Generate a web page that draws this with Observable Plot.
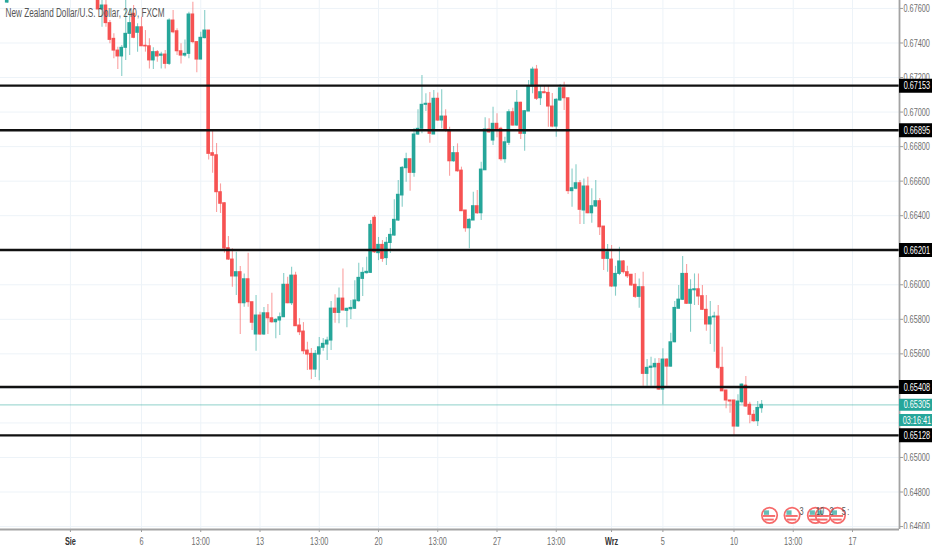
<!DOCTYPE html>
<html><head><meta charset="utf-8">
<script src="https://cdn.jsdelivr.net/npm/d3@7"></script>
<script src="https://cdn.jsdelivr.net/npm/@observablehq/plot@0.6"></script>
<style>html,body{margin:0;padding:0;background:#fff}svg{display:block}</style>
</head><body><div id="chart"></div>
<script>
// Candle prices in points (1e-5 of the quote). First entry is the lone candle at far left, then slots 7..175.
const firstSlot = [-16];
const bodyTop = [67663,
67692,67617,67617,67515,67424,67356,67372,67453,67515,67569,
67491,67491,67384,67381,67347,67347,67333,67333,67530,67530,
67468,67352,67337,67565,67565,67405,67430,67472,67472,66762,
66750,66536,66472,66212,66146,66073,66073,66032,66032,65899,
65822,65822,65835,65835,65806,65797,65812,66000,66000,66053,
66053,65764,65729,65619,65600,65600,65638,65658,65677,65862,
65862,65920,65920,65861,65866,65909,66040,66069,66075,66347,
66388,66231,66231,66243,66289,66376,66521,66677,66727,66727,
66870,66903,67042,67048,67048,67077,67077,66974,66974,66893,
66762,66762,66661,66430,66376,66455,66455,66667,66899,66899,
66932,66932,66903,66825,66999,66999,67054,67054,67005,67148,
67246,67246,67115,67115,67111,67032,67071,67138,67138,67080,
66559,66588,66588,66569,66569,66455,66484,66484,66337,66188,
66146,66063,66135,66135,66073,66058,66000,65986,65986,65519,
65526,65542,65542,65567,65567,65667,65866,65914,66063,66063,
65971,65974,65974,65934,65855,65812,65816,65816,65519,65388,
65330,65330,65324,65422,65416,65305,65247,65287,65305];
const bodyBottom = [67634,
67594,67594,67515,67418,67356,67322,67322,67372,67453,67430,
67459,67381,67380,67299,67299,67322,67326,67279,67279,67462,
67352,67327,67327,67337,67405,67304,67304,67428,66758,66747,
66536,66469,66210,66146,66048,66048,65893,65893,65899,65780,
65712,65712,65712,65806,65783,65783,65793,65812,65893,65893,
65760,65725,65615,65596,65509,65509,65596,65635,65654,65677,
65837,65837,65851,65849,65858,65861,65905,66034,66067,66069,
66188,66183,66150,66154,66242,66285,66372,66517,66675,66648,
66648,66870,66903,67042,66874,66870,66951,66951,66893,66715,
66715,66657,66426,66327,66327,66372,66414,66414,66663,66882,
66835,66899,66727,66727,66822,66922,66922,66874,66874,67003,
67148,67077,67080,67109,67032,66916,66916,67067,67080,66542,
66542,66556,66434,66430,66414,66414,66453,66333,66150,66150,
65990,65990,66063,66073,66049,65996,65930,65930,65484,65484,
65519,65522,65393,65393,65526,65526,65667,65861,65913,65890,
65890,65968,65932,65855,65770,65770,65811,65519,65383,65330,
65324,65179,65179,65320,65295,65247,65210,65210,65285];
const wickHigh = [67692,
67715,67663,67663,67530,67453,67376,67385,67675,67598,67617,
67511,67549,67472,67424,67372,67356,67347,67356,67540,67588,
67482,67395,67418,67578,67636,67405,67462,67588,67472,66889,
66818,66584,66476,66279,66208,66188,66106,66063,66183,65899,
65938,65841,65868,65886,65951,65803,65837,66065,66044,66102,
66073,65804,65781,65667,65631,65619,65694,65689,65696,65903,
65942,65982,66092,65864,65909,66024,66125,66098,66159,66372,
66401,66274,66256,66274,66326,66492,66604,66685,66762,66727,
66905,67013,67212,67106,67113,67125,67111,67129,67013,66912,
66801,66816,66681,66430,66382,66536,66546,66710,66967,66961,
67028,66990,66912,66854,67013,67022,67125,67057,67009,67183,
67260,67270,67148,67148,67148,67107,67077,67160,67173,67080,
66671,66695,66604,66613,66623,66556,66604,66499,66337,66233,
66227,66107,66217,66140,66107,66059,66065,66034,66073,65567,
65580,65571,65573,65629,65571,65719,65903,65996,66163,66117,
66029,66063,66063,65996,65938,65903,65841,65880,65638,65388,
65330,65330,65363,65426,65469,65320,65272,65324,65330];
const wickLow = [67629,
67594,67491,67491,67395,67308,67246,67206,67299,67327,67424,
67347,67381,67347,67250,67246,67289,67250,67250,67270,67453,
67327,67279,67318,67308,67395,67227,67304,67424,66723,66646,
66418,66413,66183,66140,65986,65938,65712,65870,65870,65735,
65615,65706,65706,65712,65777,65687,65706,65810,65890,65880,
65760,65706,65596,65503,65451,65463,65445,65615,65561,65619,
65777,65774,65851,65751,65799,65857,65899,65932,66063,66065,
66181,66140,66130,66111,66181,66281,66366,66449,66594,66542,
66623,66864,66874,67003,66820,66870,66945,66903,66883,66629,
66710,66652,66426,66304,66208,66372,66407,66372,66661,66878,
66806,66851,66715,66704,66806,66918,66918,66841,66773,67003,
67106,67067,67038,67107,66912,66909,66854,67063,67009,66523,
66449,66550,66349,66349,66411,66356,66449,66285,66082,66073,
65984,65934,66053,66063,66036,65992,65920,65864,65412,65412,
65412,65412,65388,65306,65412,65522,65665,65861,65909,65886,
65725,65880,65880,65851,65731,65654,65609,65509,65383,65282,
65256,65127,65175,65310,65291,65195,65204,65179,65256];
const direction = ("u"+
"dudddduuud"+"udddududud"+"dduudduudd"+"dddddududd"+"ududduuudu"+
"ddddduuuuu"+"duduuuuuuu"+"duduuuuuud"+"uuuudududd"+"uddduuduud"+
"udduududuu"+"ududdduudd"+"uududuuddu"+"duuddddudu"+
"uududuuuud"+"uuddduuddd"+"dduuddduu").split("");

const yTicks = [0.646,0.648,0.65,0.652,0.654,0.656,0.658,0.66,0.662,0.664,0.666,0.668,0.67,0.672,0.674,0.676];
const xTicks = [0,18,33,48,63,78,93,108,123,137,150,168,183,198];
const xLabels = ["Sie","6","13:00","13","13:00","20","13:00","27","13:00","Wrz","5","10","13:00","17"];
const levels = [0.67153,0.66895,0.66201,0.65408,0.65128];
const lastPrice = 0.65305;
const countdownPrice = 0.65217;
const countdownLabel = "03:16:41";
const eventSlots = [177,182.7,188.6,190.6,194.2];
const eventPrice = 0.64665;
const eventNotes = [[185.1,"3"],[189.8,"10"],[192.7,"2"],[195.8,"5"],[196.9,":"]];
const title = "New Zealand Dollar/U.S. Dollar, 240, FXCM";

const slots = firstSlot.concat(d3.range(7,176));
const rows = slots.map((s,k)=>({s,top:bodyTop[k]/1e5,bottom:bodyBottom[k]/1e5,high:wickHigh[k]/1e5,low:wickLow[k]/1e5,dir:direction[k]}));
const TEAL="#26a69a", RED="#f65252", RING="#f66a6a";
const colorOf = d=>d.dir==="u"?TEAL:RED;
const xEnd=209.9, xOuter=218.4, yBottom=0.64583, yTop=0.67646, ySub=0.6445;
const sans='"Liberation Sans",Arial,sans-serif';

const labelOf=new Map(xTicks.map((t,i)=>[t,xLabels[i]]));
const bold=[0,137];

const chart = Plot.plot({
  width:932,height:550,marginLeft:0,marginRight:33,marginTop:0,marginBottom:21,
  style:{background:"#fff",fontFamily:sans,fontSize:"11px",overflow:"visible"},
  x:{domain:[-17.7,xEnd],range:[0,899]},
  y:{domain:[yBottom,yTop],range:[529,0]},
  marks:[
    Plot.gridX({ticks:xTicks,stroke:"#edf3f8",strokeOpacity:1,strokeWidth:1}),
    Plot.gridY({ticks:yTicks,stroke:"#edf3f8",strokeOpacity:1,strokeWidth:1}),
    Plot.ruleY([lastPrice],{stroke:TEAL,strokeOpacity:.42,strokeWidth:1.2}),
    Plot.ruleX(rows,{x:"s",y1:"low",y2:"high",stroke:colorOf,strokeOpacity:.55,strokeWidth:1.1,clip:true}),
    Plot.rect(rows,{x1:d=>d.s-.46,x2:d=>d.s+.46,y1:"bottom",y2:"top",fill:colorOf,insetTop:-.5,insetBottom:-.5,clip:true}),
    Plot.ruleY(levels,{stroke:"#111",strokeWidth:2.4}),
    Plot.text([title],{frameAnchor:"top-left",dx:5,dy:8,fontSize:12.3,fill:"#555"}),

    Plot.dot(eventSlots,{x:d=>d,y:()=>eventPrice,r:7.7,fill:"#fff",stroke:RING,strokeWidth:1.7}),
    Plot.rect(eventSlots,{x1:d=>d-1.3,x2:d=>d,y1:()=>eventPrice,y2:()=>eventPrice+.00026,fill:"#66bdb6"}),
    Plot.rect(eventSlots,{x1:d=>d-1.55,x2:d=>d+1.55,y1:()=>eventPrice-.00012,y2:()=>eventPrice-.00001,fill:RING}),
    Plot.rect(eventSlots,{x1:d=>d-1.2,x2:d=>d+1.2,y1:()=>eventPrice-.00033,y2:()=>eventPrice-.00022,fill:RING}),
    Plot.text(eventNotes,{x:d=>d[0],y:()=>eventPrice+.00023,text:d=>d[1],fontSize:11,fill:"#555"}),

    Plot.axisX({ticks:xTicks.filter(t=>!bold.includes(t)),tickFormat:t=>labelOf.get(t),tickSize:3,tickPadding:5,color:"#6f6f6f",stroke:"#9a9a9a",fontSize:11,label:null}),
    Plot.axisX({ticks:bold,tickFormat:t=>labelOf.get(t),tickSize:3,tickPadding:5,color:"#333",stroke:"#9a9a9a",fontSize:11,fontWeight:"bold",label:null}),
    Plot.axisY({anchor:"right",ticks:yTicks,tickFormat:d3.format(".5f"),tickSize:3,tickPadding:1,color:"#6f6f6f",stroke:"#9a9a9a",fontSize:11,label:null}),
    Plot.rect([0],{x1:()=>xEnd,x2:()=>xOuter,y1:()=>yBottom,y2:()=>ySub,fill:"#fff"}),
    Plot.ruleX([xEnd],{y1:()=>yBottom,y2:()=>yTop,stroke:"#a3a3a3",strokeWidth:1.8}),
    Plot.ruleY([yBottom],{x1:()=>-17.7,x2:()=>xEnd,stroke:"#a3a3a3",strokeWidth:1.8}),

    Plot.ruleY(levels,{x1:()=>xEnd,x2:()=>xOuter,stroke:"#000",strokeWidth:14}),
    Plot.text(levels,{x:()=>214.3,y:d=>d,text:d=>d.toFixed(5),fill:"#fff",fontSize:11}),
    Plot.ruleY([lastPrice],{x1:()=>xEnd,x2:()=>xOuter,stroke:TEAL,strokeWidth:12}),
    Plot.text([lastPrice],{x:()=>214.3,y:d=>d,text:d=>d.toFixed(5),fill:"#fff",fontSize:11}),
    Plot.ruleY([countdownPrice],{x1:()=>xEnd,x2:()=>xOuter,stroke:TEAL,strokeWidth:12}),
    Plot.text([countdownPrice],{x:()=>214.3,y:d=>d,text:()=>countdownLabel,fill:"#fff",fontSize:11})
  ]
});
document.getElementById("chart").append(chart);
// The reference's type is set condensed: squeeze every label horizontally.
const squeeze = 0.665;
chart.querySelectorAll("text").forEach(t=>{
  t.setAttribute("textLength",(t.getComputedTextLength()*squeeze).toFixed(1));
  t.setAttribute("lengthAdjust","spacingAndGlyphs");
});
</script></body></html>
